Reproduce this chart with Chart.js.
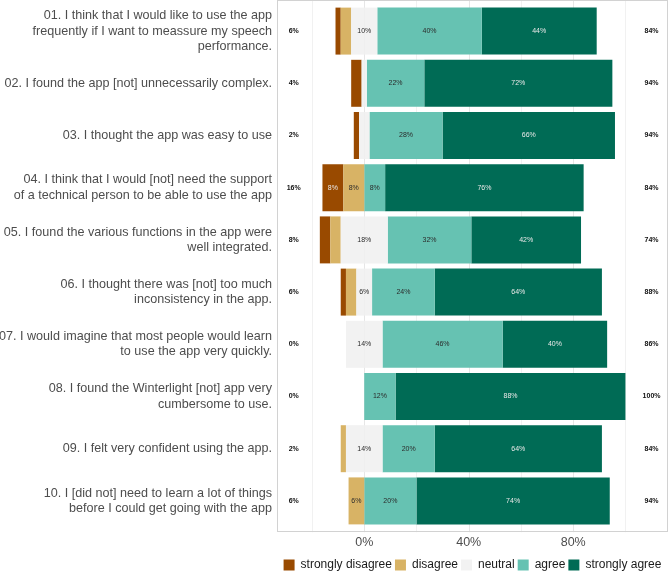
<!DOCTYPE html>
<html><head><meta charset="utf-8">
<script src="https://cdn.jsdelivr.net/npm/chart.js@4/dist/chart.umd.min.js"></script>
<style>html,body{margin:0;padding:0;background:#fff}#wrap{width:669px;height:572px}canvas{display:block}</style>
</head><body><div id="wrap"><canvas id="c" width="669" height="572"></canvas></div>
<script>
const items = [
  ["01. I think that I would like to use the app", "frequently if I want to meassure my speech", "performance."],
  ["02. I found the app [not] unnecessarily complex."],
  ["03. I thought the app was easy to use"],
  ["04. I think that I would [not] need the support", "of a technical person to be able to use the app"],
  ["05. I found the various functions in the app were", "well integrated."],
  ["06. I thought there was [not] too much", "inconsistency in the app."],
  ["07. I would imagine that most people would learn", "to use the app very quickly."],
  ["08. I found the Winterlight [not] app very", "cumbersome to use."],
  ["09. I felt very confident using the app."],
  ["10. I [did not] need to learn a lot of things", "before I could get going with the app"]
];
const stronglyDisagree = [2, 4, 2, 8, 4, 2, 0, 0, 0, 0];
const disagree         = [4, 0, 0, 8, 4, 4, 0, 0, 2, 6];
const neutral          = [10, 2, 4, 0, 18, 6, 14, 0, 14, 0];
const agree            = [40, 22, 28, 8, 32, 24, 46, 12, 20, 20];
const stronglyAgree    = [44, 72, 66, 76, 42, 64, 40, 88, 64, 74];
const seriesNames = ["strongly disagree", "disagree", "neutral", "agree", "strongly agree"];
const gridValues = [-20, 0, 20, 40, 60, 80, 100];
const tickLabelValues = [0, 40, 80];

const colors = {sd: "#994A00", d: "#D8B365", n: "#F2F2F2", a: "#66C2B2", sa: "#006B55"};
const legendColors = [colors.sd, colors.d, colors.n, colors.a, colors.sa];

Chart.defaults.font.family = "'Liberation Sans', Arial, sans-serif";

const half = neutral.map(v => v / 2);
const datasets = [
  {key: "nNeg", data: half.map(v => -v), backgroundColor: colors.n},
  {key: "d", data: disagree.map(v => -v), backgroundColor: colors.d},
  {key: "sd", data: stronglyDisagree.map(v => -v), backgroundColor: colors.sd},
  {key: "nPos", data: half.slice(), backgroundColor: colors.n},
  {key: "a", data: agree.slice(), backgroundColor: colors.a},
  {key: "sa", data: stronglyAgree.slice(), backgroundColor: colors.sa}
].map(d => Object.assign(d, {barPercentage: 0.9, categoryPercentage: 1.0, borderWidth: 0, label: d.key}));

const sourceByKey = {d: disagree, sd: stronglyDisagree, nPos: neutral, a: agree, sa: stronglyAgree};
const lightText = {sd: true, sa: true};

const panelPlugin = {
  id: "panel",
  beforeDatasetsDraw(chart) {
    const {ctx, chartArea, scales: {x, y}} = chart;
    const band = y.getPixelForValue(1) - y.getPixelForValue(0);
    const ext = band * 0.1;
    const top = chartArea.top - ext, bottom = chartArea.bottom + ext;
    ctx.save();
    gridValues.forEach(v => {
      const px = Math.round(x.getPixelForValue(v)) + 0.5;
      ctx.strokeStyle = tickLabelValues.includes(v) ? "#E6E6E6" : "#F1F1F1";
      ctx.lineWidth = 1;
      ctx.beginPath(); ctx.moveTo(px, top); ctx.lineTo(px, bottom); ctx.stroke();
    });
    ctx.restore();
  },
  afterDraw(chart) {
    const {ctx, chartArea, scales: {y}} = chart;
    const band = y.getPixelForValue(1) - y.getPixelForValue(0);
    const ext = band * 0.1;
    ctx.save();
    ctx.strokeStyle = "#D2D2D2";
    ctx.lineWidth = 1;
    const t = Math.max(0, Math.round(chartArea.top - ext));
    const b = Math.round(chartArea.bottom + ext);
    ctx.strokeRect(Math.round(chartArea.left) + 0.5, t + 0.5,
      Math.round(chartArea.right - chartArea.left) - 1, b - t - 1);
    ctx.restore();
  }
};

const labelPlugin = {
  id: "barLabels",
  afterDatasetsDraw(chart) {
    const {ctx, scales: {x, y}} = chart;
    ctx.save();
    ctx.textAlign = "center";
    ctx.textBaseline = "middle";
    ctx.font = "7px 'Liberation Sans', Arial, sans-serif";
    chart.data.datasets.forEach((ds, di) => {
      const src = sourceByKey[ds.key];
      if (!src) return;
      const meta = chart.getDatasetMeta(di);
      meta.data.forEach((el, i) => {
        const v = src[i];
        if (v < 5) return;
        const p = el.getProps(["x", "base", "y"], true);
        const cx = ds.key === "nPos" ? x.getPixelForValue(0) : (p.x + p.base) / 2;
        ctx.fillStyle = lightText[ds.key] ? "#E8E8E8" : "#2B2B2B";
        ctx.fillText(v + "%", cx, p.y);
      });
    });
    ctx.font = "bold 7px 'Liberation Sans', Arial, sans-serif";
    ctx.fillStyle = "#111";
    items.forEach((_, i) => {
      const py = y.getPixelForValue(i);
      ctx.fillText((stronglyDisagree[i] + disagree[i]) + "%", x.getPixelForValue(-27), py);
      ctx.fillText((agree[i] + stronglyAgree[i]) + "%", x.getPixelForValue(110), py);
    });
    ctx.restore();
  }
};

new Chart(document.getElementById("c"), {
  type: "bar",
  data: {labels: items, datasets},
  options: {
    indexAxis: "y",
    responsive: false,
    animation: false,
    devicePixelRatio: 1,
    layout: {padding: {top: 5, right: 1, left: 0, bottom: -9}},
    scales: {
      x: {
        type: "linear", stacked: true, min: -33.4, max: 116.3,
        afterBuildTicks: s => { s.ticks = gridValues.map(v => ({value: v})); },
        grid: {display: false, drawTicks: false},
        border: {display: false},
        ticks: {padding: 8, color: "#4D4D4D", font: {size: 12.5}, autoSkip: false, maxRotation: 0,
          callback: v => tickLabelValues.includes(v) ? v + "%" : ""},
        afterFit: s => { s.height = 29; s.paddingLeft = 0; s.paddingRight = 0; }
      },
      y: {
        stacked: true,
        grid: {display: false, drawTicks: false},
        border: {display: false},
        ticks: {padding: 5, color: "#4D4D4D", font: {size: 12.6, lineHeight: 1.22}, autoSkip: false},
        afterFit: s => { s.width = 277; s.paddingTop = 0; s.paddingBottom = 0; }
      }
    },
    plugins: {
      tooltip: {enabled: false},
      legend: {
        position: "bottom", fullSize: false, align: "center",
        onClick: null,
        labels: {
          boxWidth: 11, boxHeight: 11, padding: 3, color: "#1A1A1A", font: {size: 12},
          generateLabels: () => seriesNames.map((n, i) => ({
            text: n, fillStyle: legendColors[i], strokeStyle: legendColors[i], lineWidth: 0, hidden: false, fontColor: "#1A1A1A"
          }))
        }
      }
    }
  },
  plugins: [panelPlugin, labelPlugin]
});
</script></body></html>
